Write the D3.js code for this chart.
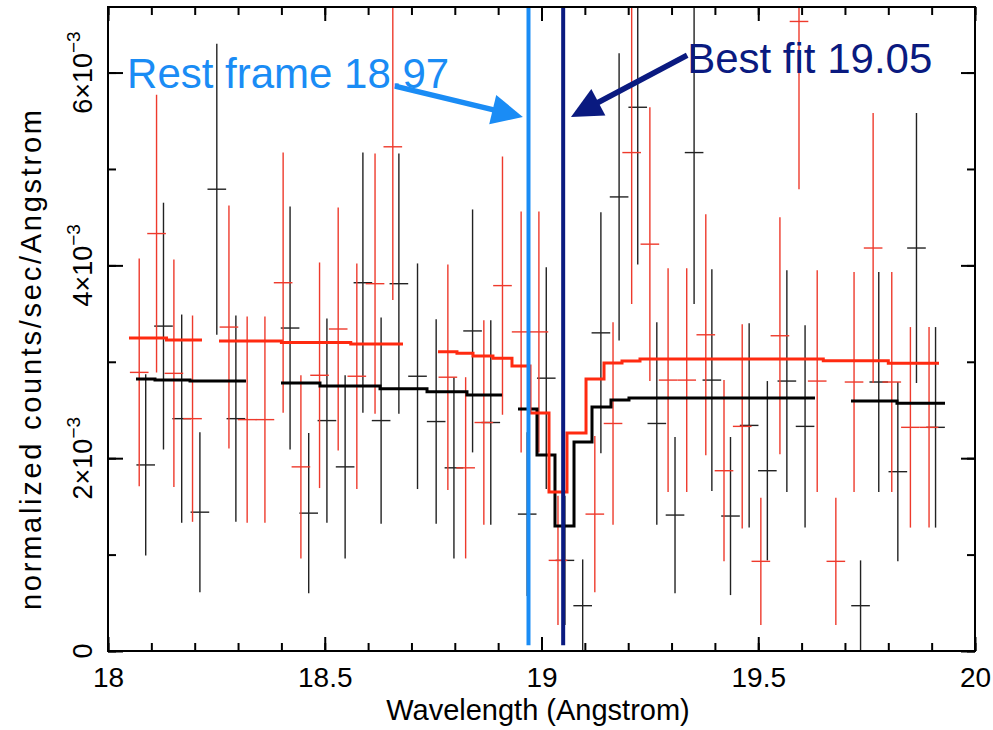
<!DOCTYPE html>
<html><head><meta charset="utf-8">
<script src="https://cdn.jsdelivr.net/npm/d3@7"></script>
<style>
body{margin:0;background:#fff}
svg{display:block}
text{font-family:"Liberation Sans",Arial,Helvetica,sans-serif}
</style>
</head><body>
<svg id="c" width="993" height="730"></svg>
<script>
// ---- data (counts in units of 1e-3) ----
const blackWl = [18.087,18.128,18.170,18.212,18.251,18.295,18.420,18.463,18.505,18.547,18.588,18.630,18.671,18.714,18.757,18.798,18.841,18.883,18.967,19.011,19.054,19.095,19.137,19.179,19.222,19.266,19.308,19.352,19.393,19.436,19.479,19.521,19.566,19.608,19.736,19.778,19.822,19.865,19.909];
const blackVal = [1.93,3.37,2.41,1.44,4.79,2.41,3.35,1.43,2.39,1.91,3.82,2.39,3.81,2.85,2.38,1.90,3.32,2.37,1.42,2.83,0.94,0.47,3.30,4.71,5.64,2.36,1.41,5.17,2.81,1.40,2.34,1.87,2.80,2.33,0.47,2.79,1.86,4.18,2.32];
const blackErr = [0.94,1.28,1.08,0.83,1.51,1.07,1.26,0.83,1.06,0.95,1.35,1.07,1.35,1.17,1.06,0.94,1.26,1.06,0.85,1.15,0.67,0.48,1.25,1.49,1.63,1.05,0.81,1.57,1.15,0.82,1.06,0.93,1.15,1.05,0.47,1.14,0.93,1.40,1.04];

const redWl = [18.072,18.112,18.152,18.195,18.279,18.321,18.362,18.404,18.445,18.488,18.531,18.574,18.616,18.657,18.784,18.825,18.867,18.910,18.953,18.994,19.038,19.123,19.165,19.208,19.250,19.292,19.335,19.379,19.421,19.463,19.506,19.550,19.594,19.636,19.679,19.721,19.765,19.808,19.851,19.894];
const redVal = [2.89,4.33,2.88,2.41,3.36,2.40,2.40,3.82,1.91,2.86,3.34,2.85,3.81,5.23,2.84,1.90,2.37,3.79,3.31,3.31,0.94,1.42,2.36,5.17,4.22,2.81,2.81,3.28,1.87,2.33,0.93,3.27,6.53,2.80,0.93,2.79,4.18,2.79,2.32,2.32];
const redErr = [1.18,1.44,1.18,1.07,1.26,1.07,1.07,1.35,0.95,1.17,1.26,1.17,1.35,1.59,1.17,0.94,1.06,1.34,1.25,1.25,0.67,0.81,1.05,1.57,1.42,1.16,1.16,1.25,0.94,1.06,0.66,1.23,1.74,1.15,0.66,1.14,1.40,1.14,1.04,1.04];
const binHalf = 0.0215;

// model step pieces: edges (Å) and values (one fewer than edges)
const modelBlackEdges = [
  [18.0646,18.1084,18.1892,18.3183],
  [18.3991,18.4890,18.6275,18.7359,18.8281,18.9089],
  [18.9458,18.9896,19.0311,19.0750,19.1165,19.1603,19.2018,19.6309],
  [19.7140,19.8200,19.9308]
];
const modelBlackVals = [
  [2.822,2.811,2.801],
  [2.780,2.750,2.720,2.690,2.656],
  [2.510,2.033,1.297,2.168,2.531,2.604,2.624],
  [2.593,2.570]
];
const modelRedEdges = [
  [18.0484,18.1350,18.2168],
  [18.2561,18.4000,18.5600,18.6805],
  [18.7612,18.8050,18.8420,18.8880,18.9319,18.9735,19.0173,19.0588,19.1027,19.1442,19.1857,19.2272,19.6500,19.8000,19.9170]
];
const modelRedVals = [
  [3.247,3.225],
  [3.216,3.200,3.185],
  [3.105,3.089,3.060,3.036,2.956,2.469,1.649,2.261,2.822,2.988,3.008,3.029,3.010,2.985]
];

const restLine = 18.97, bestLine = 19.05;
const xTickMajor = [18,18.5,19,19.5,20];
const yTickMajor = [0,2,4,6];

// ---- scales ----
const svg = d3.select("#c");
const x = d3.scaleLinear().domain([18,20]).range([108,975]);
const y = d3.scaleLinear().domain([0,6.68]).range([651,7]);

svg.append("defs").append("clipPath").attr("id","clip")
  .append("rect").attr("x",x(18)).attr("y",y(6.68)).attr("width",x(20)-x(18)).attr("height",y(0)-y(6.68));

const plot = svg.append("g").attr("clip-path","url(#clip)");

function errorBars(wl, val, err, color, cls){
  const g = plot.append("g").attr("stroke",color).attr("stroke-width",1.4).attr("fill","none");
  const d = wl.map((w,i)=>({w, v:val[i], e:err[i]}));
  g.selectAll("line.v"+cls).data(d).join("line")
    .attr("x1",p=>x(p.w)).attr("x2",p=>x(p.w))
    .attr("y1",p=>y(p.v+p.e)).attr("y2",p=>y(Math.max(p.v-p.e,-0.1)));
  g.selectAll("line.h"+cls).data(d).join("line")
    .attr("x1",p=>x(p.w-binHalf)).attr("x2",p=>x(p.w+binHalf))
    .attr("y1",p=>y(p.v)).attr("y2",p=>y(p.v));
}
errorBars(blackWl, blackVal, blackErr, "#222222", "b");
errorBars(redWl, redVal, redErr, "#ee3a2c", "r");

function model(edges, vals, color){
  const line = d3.line().x(p=>x(p[0])).y(p=>y(p[1])).curve(d3.curveStepAfter);
  edges.forEach((e,k)=>{
    const v = vals[k];
    const pts = e.map((w,i)=>[w, v[Math.min(i, v.length-1)]]);
    plot.append("path").attr("d", line(pts)).attr("fill","none")
      .attr("stroke",color).attr("stroke-width",3).attr("stroke-linejoin","miter");
  });
}
model(modelBlackEdges, modelBlackVals, "#000000");
model(modelRedEdges, modelRedVals, "#ff2a10");

// vertical lines
plot.append("line").attr("x1",x(restLine)).attr("x2",x(restLine)).attr("y1",y(6.68)).attr("y2",y(0.06))
  .attr("stroke","#1a8cf5").attr("stroke-width",4);
plot.append("line").attr("x1",x(bestLine)).attr("x2",x(bestLine)).attr("y1",y(6.68)).attr("y2",y(0.06))
  .attr("stroke","#0a1a80").attr("stroke-width",4);

// ---- axes ----
const axG = svg.append("g");
function styleAxis(g){ g.select(".domain").remove(); g.selectAll("line").attr("stroke","#000").attr("stroke-width",2); }
const minorX = d3.range(18,20.0001,0.1);
const minorY = d3.range(0,6.6,1);
axG.append("g").attr("transform",`translate(0,${y(0)})`)
  .call(d3.axisBottom(x).tickValues(minorX).tickSize(-8).tickFormat("")).call(styleAxis);
axG.append("g").attr("transform",`translate(0,${y(0)})`)
  .call(d3.axisBottom(x).tickValues(xTickMajor).tickSize(-14).tickPadding(16).tickFormat(d3.format("")))
  .call(styleAxis)
  .call(g=>g.selectAll("text").attr("font-size",28).attr("fill","#000"));
axG.append("g").attr("transform",`translate(0,${y(6.68)})`)
  .call(d3.axisTop(x).tickValues(minorX).tickSize(-8).tickFormat("")).call(styleAxis);
axG.append("g").attr("transform",`translate(0,${y(6.68)})`)
  .call(d3.axisTop(x).tickValues(xTickMajor).tickSize(-14).tickFormat("")).call(styleAxis);
axG.append("g").attr("transform",`translate(${x(18)},0)`)
  .call(d3.axisLeft(y).tickValues(minorY).tickSize(-8).tickFormat("")).call(styleAxis);
axG.append("g").attr("transform",`translate(${x(18)},0)`)
  .call(d3.axisLeft(y).tickValues(yTickMajor).tickSize(-15).tickFormat("")).call(styleAxis);
axG.append("g").attr("transform",`translate(${x(20)},0)`)
  .call(d3.axisRight(y).tickValues(minorY).tickSize(-8).tickFormat("")).call(styleAxis);
axG.append("g").attr("transform",`translate(${x(20)},0)`)
  .call(d3.axisRight(y).tickValues(yTickMajor).tickSize(-14).tickFormat("")).call(styleAxis);

svg.append("rect").attr("x",x(18)).attr("y",y(6.68)).attr("width",x(20)-x(18)).attr("height",y(0)-y(6.68))
  .attr("fill","none").attr("stroke","#000").attr("stroke-width",2);

// y tick labels (rotated)
yTickMajor.forEach(v=>{
  const t = svg.append("text").attr("transform",`translate(92,${y(v)}) rotate(-90)`)
    .attr("text-anchor","middle").attr("font-size",27).attr("fill","#000");
  if(v===0){ t.text("0"); }
  else {
    t.append("tspan").text(v+"×10");
    t.append("tspan").attr("dy",-12).attr("font-size",19).text("−3");
  }
});

// axis titles
svg.append("text").attr("x",538).attr("y",720).attr("text-anchor","middle")
  .attr("font-size",29).attr("fill","#000").text("Wavelength (Angstrom)");
svg.append("text").attr("transform",`translate(41,360) rotate(-90)`).attr("text-anchor","middle")
  .attr("font-size",29).attr("fill","#000")
  .attr("textLength",500).attr("lengthAdjust","spacing")
  .text("normalized counts/sec/Angstrom");

// annotations
function arrow(x1,y1,x2,y2,color){
  const X1=x(x1),Y1=y(y1),X2=x(x2),Y2=y(y2);
  const dx=X2-X1, dy=Y2-Y1, L=Math.hypot(dx,dy), ux=dx/L, uy=dy/L;
  const hl=31, hw=15, bx=X2-ux*hl, by=Y2-uy*hl;
  svg.append("line").attr("x1",X1).attr("y1",Y1).attr("x2",bx+ux*2).attr("y2",by+uy*2)
    .attr("stroke",color).attr("stroke-width",5.5);
  svg.append("polygon").attr("fill",color)
    .attr("points",[[X2,Y2],[bx-uy*hw,by+ux*hw],[bx+uy*hw,by-ux*hw]].map(p=>p.join(",")).join(" "));
}
svg.append("text").attr("x",x(18.044)).attr("y",y(5.84)).attr("font-size",42)
  .attr("fill","#1a8cf5").text("Rest frame 18.97");
arrow(18.662,5.86,18.957,5.54,"#1a8cf5");
svg.append("text").attr("x",x(19.336)).attr("y",y(6.0)).attr("font-size",42)
  .attr("fill","#0a1a80").text("Best fit 19.05");
arrow(19.336,6.18,19.068,5.54,"#0a1a80");
</script>
</body></html>
